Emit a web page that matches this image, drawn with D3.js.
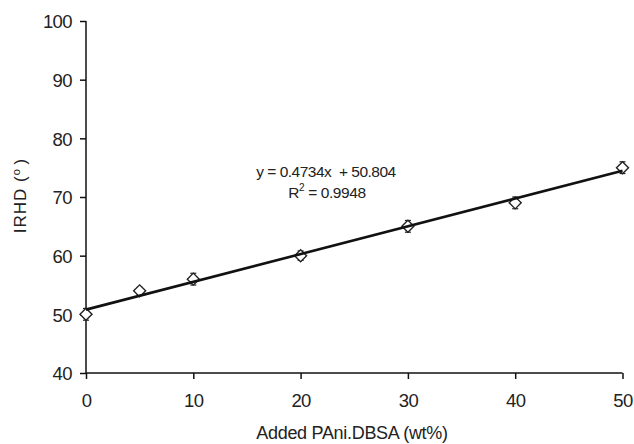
<!DOCTYPE html>
<html><head><meta charset="utf-8">
<script src="https://cdn.jsdelivr.net/npm/d3@7"></script>
<style>body{margin:0;background:#fff}svg{display:block}text{font-family:"Liberation Sans",Arial,sans-serif;fill:#222}</style>
</head><body>
<svg id="c" width="634" height="444"></svg>
<script>
const xValues = [0, 5, 10, 20, 30, 40, 50];
const irhd = [50, 54, 56, 60, 65, 69, 75];
const errors = [1, 0.6, 1, 0.8, 1, 1, 1];
const xTicks = [0, 10, 20, 30, 40, 50];
const yTicks = [40, 50, 60, 70, 80, 90, 100];
const slope = 0.4734, intercept = 50.804;
const eqLine1 = "y = 0.4734x  + 50.804";
const r2Value = "0.9948";

const svg = d3.select("#c");
const x = d3.scaleLinear().domain([0, 50]).range([86, 622.5]);
const y = d3.scaleLinear().domain([40, 100]).range([373, 21]);

const xAxis = svg.append("g").attr("transform", "translate(0,373)")
  .call(d3.axisBottom(x).tickValues(xTicks).tickSize(6).tickPadding(15));
const yAxis = svg.append("g").attr("transform", "translate(86,0)")
  .call(d3.axisLeft(y).tickValues(yTicks).tickSize(6).tickPadding(8));
[xAxis, yAxis].forEach(g => {
  g.selectAll(".domain").attr("stroke", "#111").attr("stroke-width", 1.5);
  g.selectAll(".tick line").attr("stroke", "#111").attr("stroke-width", 1.5);
  g.selectAll(".tick text").style("font-size", "18.5px").attr("letter-spacing", "-0.6").attr("fill", "#222");
});
xAxis.select(".domain").attr("d", `M${x(0)},0H${x(50)}`);
yAxis.select(".domain").attr("d", `M0,${y(40)}V${y(100)}`);
yAxis.selectAll(".tick text").attr("dy", "0.36em");

// error bars
const eb = svg.append("g").attr("stroke", "#222").attr("stroke-width", 1.2);
xValues.forEach((xv, i) => {
  const cx = x(xv);
  eb.append("line").attr("x1", cx).attr("x2", cx).attr("y1", y(irhd[i] - errors[i])).attr("y2", y(irhd[i] + errors[i]));
  [irhd[i] - errors[i], irhd[i] + errors[i]].forEach(v => {
    eb.append("line").attr("x1", cx - 3).attr("x2", cx + 3).attr("y1", y(v)).attr("y2", y(v));
  });
});

// markers (open diamonds)
svg.append("g").selectAll("path").data(xValues).join("path")
  .attr("d", d3.symbol().type(d3.symbolSquare).size(72))
  .attr("transform", (d, i) => `translate(${x(d)},${y(irhd[i])}) rotate(45)`)
  .attr("fill", "#fff").attr("stroke", "#222").attr("stroke-width", 1.4);

// regression line
svg.append("line")
  .attr("x1", x(0)).attr("y1", y(intercept))
  .attr("x2", x(50)).attr("y2", y(slope * 50 + intercept))
  .attr("stroke", "#111").attr("stroke-width", 2.6);

// equation
svg.append("text").attr("x", 326).attr("y", 177).attr("text-anchor", "middle")
  .style("font-size", "15.5px").attr("letter-spacing", "-0.5").attr("xml:space", "preserve").text(eqLine1);
const r2 = svg.append("text").attr("x", 327).attr("y", 198).attr("text-anchor", "middle")
  .style("font-size", "15.5px").attr("letter-spacing", "-0.4");
r2.append("tspan").text("R");
r2.append("tspan").attr("dy", -7).style("font-size", "10px").text("2");
r2.append("tspan").attr("dy", 7).text(" = " + r2Value);

// axis titles
svg.append("text").attr("x", 352).attr("y", 439).attr("text-anchor", "middle")
  .style("font-size", "18px").attr("letter-spacing", "-0.3").text("Added PAni.DBSA (wt%)");
const yl = svg.append("text").attr("transform", "translate(26,196) rotate(-90)").attr("text-anchor", "middle")
  .style("font-size", "17px").attr("xml:space", "preserve");
yl.append("tspan").attr("letter-spacing", "1").text("IRHD (");
yl.append("tspan").attr("dy", -6).style("font-size", "11px").text("o");
yl.append("tspan").attr("dy", 6).text(" )");
</script>
</body></html>
